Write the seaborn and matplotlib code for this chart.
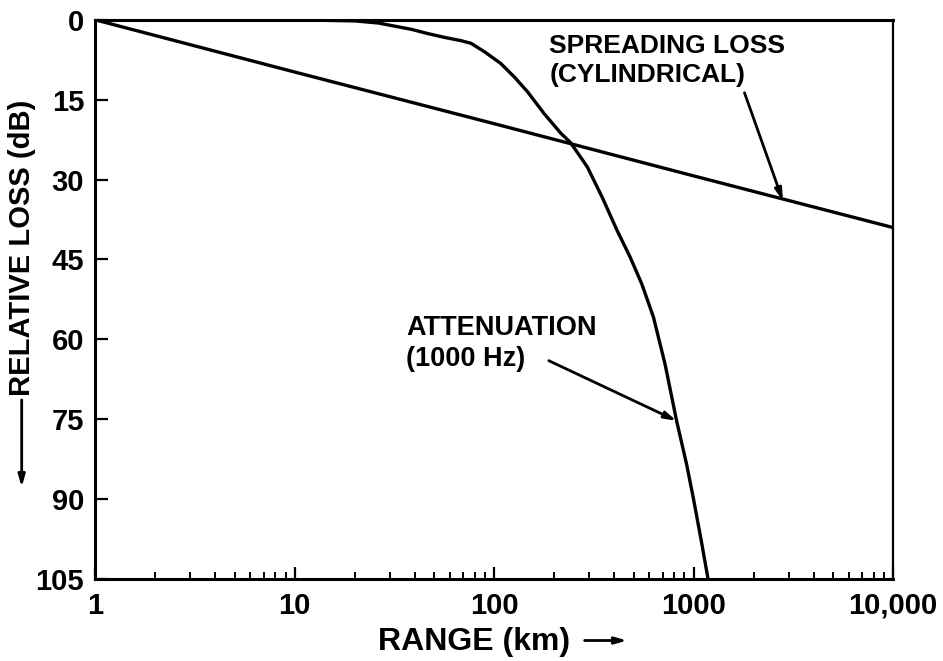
import pandas as pd
import matplotlib.pyplot as plt
import seaborn as sns

# estilo base
sns.set_style("ticks")
plt.rcParams['font.family'] = ['Liberation Sans', 'DejaVu Sans']
plt.rcParams['font.weight'] = 'bold'
plt.rcParams['text.color'] = 'black'
plt.rcParams['axes.labelcolor'] = 'black'
plt.rcParams['xtick.color'] = 'black'
plt.rcParams['ytick.color'] = 'black'

# dados
range_att = [1, 10, 20, 26.3, 38.6, 46.7, 56.5, 68, 76.5, 89.5, 108, 126, 147, 178, 216,
             241, 293, 348, 413, 480, 550, 629, 719, 822, 922, 996, 1094, 1182]
loss_att = [0, 0, 0.2, 0.6, 1.8, 2.6, 3.3, 3.9, 4.4, 6.0, 8.2, 10.7, 13.5, 17.6, 21.3,
            23, 27.6, 33.3, 39.5, 44.5, 49.6, 55.8, 64.6, 75.3, 83.4, 89.7, 97.9, 105]

range_spread = [1, 10, 100, 1000, 10000]
loss_spread = [0, 9.8, 19.5, 29.3, 39]

x_ticks = [1, 10, 100, 1000, 10000]
x_labels = ['1', '10', '100', '1000', '10,000']
y_ticks = [0, 15, 30, 45, 60, 75, 90, 105]

df_att = pd.DataFrame({'range': range_att, 'loss': loss_att})
df_spread = pd.DataFrame({'range': range_spread, 'loss': loss_spread})

fig = plt.figure(figsize=(9.43, 6.61), dpi=100)
ax = fig.add_axes([0.101, 0.124, 0.846, 0.846])

sns.lineplot(data=df_att, x='range', y='loss', color='black', lw=2.4, ax=ax)
sns.lineplot(data=df_spread, x='range', y='loss', color='black', lw=2.4, ax=ax)

ax.set_xscale('log')
ax.set_xlim(1, 10000)
ax.set_ylim(105, 0)
ax.set_xticks(x_ticks)
ax.set_xticklabels(x_labels)
ax.set_yticks(y_ticks)
ax.set_yticklabels([str(v) for v in y_ticks])
ax.set_xlabel('')
ax.set_ylabel('')

ax.tick_params(axis='both', which='major', direction='in', length=9, width=1.6,
               labelsize=21, color='black', labelcolor='black')
ax.tick_params(axis='x', which='major', pad=9)
ax.tick_params(axis='y', which='major', pad=8)
ax.tick_params(axis='x', which='minor', direction='in', length=5, width=1.4, color='black')
for lab in ax.get_xticklabels() + ax.get_yticklabels():
    lab.set_fontweight('bold')

for side in ['left', 'bottom', 'top', 'right']:
    ax.spines[side].set_visible(True)
    ax.spines[side].set_color('black')
    ax.spines[side].set_linewidth(2.2)
ax.spines['right'].set_linewidth(1.6)

# anotacoes
arrow = dict(arrowstyle='-|>,head_length=0.7,head_width=0.2', color='black', lw=2, shrinkA=0, shrinkB=0)
ax.text(189, 2.6, 'SPREADING LOSS\n(CYLINDRICAL)', fontsize=19, fontweight='bold',
        va='top', ha='left', linespacing=1.28)
ax.annotate('', xy=(2806, 34), xytext=(1800, 13.7), arrowprops=arrow)

ax.text(36.3, 55.4, 'ATTENUATION\n(1000 Hz)', fontsize=19.5, fontweight='bold',
        va='top', ha='left', linespacing=1.25)
ax.annotate('', xy=(822, 75.3), xytext=(188, 64), arrowprops=arrow)

# rotulos dos eixos com setas
fig.text(0.023, 0.625, 'RELATIVE LOSS (dB)', rotation=90, fontsize=21, fontweight='bold',
         ha='center', va='center')
ax.annotate('', xy=(0.023, 0.263), xytext=(0.023, 0.395), xycoords='figure fraction',
            textcoords='figure fraction', arrowprops=arrow)

fig.text(0.401, 0.029, 'RANGE (km)', fontsize=23, fontweight='bold', ha='left', va='center')
ax.annotate('', xy=(0.665, 0.031), xytext=(0.620, 0.031), xycoords='figure fraction',
            textcoords='figure fraction', arrowprops=arrow)

fig.savefig('out.png', dpi=100)
